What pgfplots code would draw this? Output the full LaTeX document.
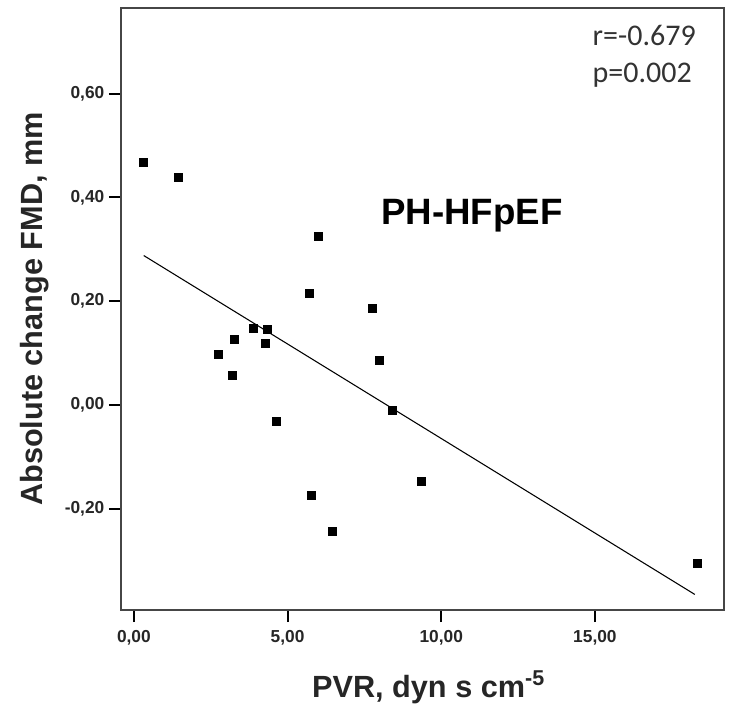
\documentclass[border=0pt]{standalone}
\usepackage{pgfplots}
\pgfplotsset{compat=1.18}
\usepackage{fontspec}
\setmainfont{Liberation Sans}
\newfontfamily\calibri{Carlito}
\definecolor{axgray}{RGB}{70,70,70}
\begin{document}
\begin{tikzpicture}
\begin{axis}[
  scale only axis,
  width=452.25pt, height=451.5pt,
  xmin=-0.42, xmax=19.2,
  ymin=-0.395, ymax=0.765,
  xtick={0,5,10,15},
  ytick={-0.2,0,0.2,0.4,0.6},
  tick pos=left,
  tick align=outside,
  major tick length=9pt,
  major tick style={line width=1.5pt, black},
  axis line style={line width=1.6pt, axgray},
  /pgf/number format/.cd, fixed, fixed zerofill, precision=2, use comma, assume math mode=true,
  /pgfplots/.cd,
  ticklabel style={font=\fontsize{13}{15}\selectfont\bfseries, text=black!85},
  xticklabel style={yshift=-3pt},
  xlabel={PVR, dyn s cm\textsuperscript{-5}},
  ylabel={Absolute change FMD, mm},
  xlabel style={at={(axis description cs:0.51,-0.128)}, anchor=center, font=\fontsize{23}{27}\selectfont\bfseries, text=black!85},
  ylabel style={at={(axis description cs:-0.144,0.5)}, anchor=center, rotate=0, font=\fontsize{23}{27}\selectfont\bfseries, text=black!85},
  clip=false,
]
\addplot[only marks, mark=square*, mark size=3pt, black] coordinates {
(0.29,0.468) (1.43,0.439) (5.99,0.326) (5.72,0.216) (7.76,0.187)
(3.89,0.148) (4.35,0.146) (3.28,0.127) (4.29,0.119) (2.73,0.098)
(7.98,0.086) (3.21,0.058) (8.39,-0.011) (4.64,-0.031) (9.34,-0.146)
(5.78,-0.174) (6.46,-0.243) (18.33,-0.304)
};
\addplot[black, line width=0.8pt] coordinates {(0.32,0.288) (18.25,-0.365)};
\node[anchor=base, font=\fontsize{27.5}{31}\selectfont\bfseries] at (axis cs:11.0,0.348) {PH-HFpEF};
\node[anchor=base west, inner sep=0pt, font=\calibri\fontsize{22.5}{26}\selectfont, text=black!80] at (axis cs:14.92,0.692) {r=-0.679};
\node[anchor=base west, inner sep=0pt, font=\calibri\fontsize{22.5}{26}\selectfont, text=black!80] at (axis cs:14.92,0.621) {p=0.002};
\end{axis}
\path ([xshift=-90.75pt,yshift=-72.75pt]current axis.south west) rectangle ([xshift=5.25pt,yshift=6pt]current axis.north east);
\end{tikzpicture}
\end{document}
